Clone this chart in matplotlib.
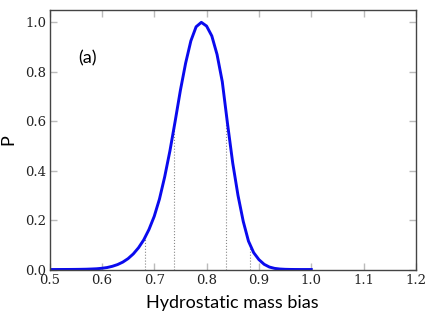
"""
Hydrostatic mass bias posterior, panel (a)
"""

import numpy as np
import matplotlib
matplotlib.use('Agg')
import matplotlib.pyplot as plt

# curve, 0.01 steps
bias = [0.50, 0.51, 0.52, 0.53, 0.54, 0.55, 0.56, 0.57, 0.58, 0.59,
        0.60, 0.61, 0.62, 0.63, 0.64, 0.65, 0.66, 0.67, 0.68, 0.69,
        0.70, 0.71, 0.72, 0.73, 0.74, 0.75, 0.76, 0.77, 0.78, 0.79,
        0.80, 0.81, 0.82, 0.83, 0.84, 0.85, 0.86, 0.87, 0.88, 0.89,
        0.90, 0.91, 0.92, 0.93, 0.94, 0.95, 0.96, 0.97, 0.98, 0.99, 1.00]
prob = [0.0, 0.0, 0.0001, 0.0002, 0.0003, 0.0005, 0.0008, 0.0012, 0.002, 0.003,
        0.005, 0.008, 0.013, 0.020, 0.030, 0.044, 0.063, 0.088, 0.120, 0.162,
        0.215, 0.285, 0.375, 0.480, 0.600, 0.725, 0.835, 0.925, 0.982, 1.000,
        0.985, 0.945, 0.870, 0.760, 0.590, 0.430, 0.300, 0.195, 0.115, 0.068,
        0.040, 0.021, 0.010, 0.0045, 0.002, 0.0008, 0.0003, 0.0001, 0.0, 0.0, 0.0]

# interval bounds (dotted lines)
bounds = [0.683, 0.738, 0.838, 0.882]

xticks = [0.5, 0.6, 0.7, 0.8, 0.9, 1.0, 1.1, 1.2]
yticks = [0.0, 0.2, 0.4, 0.6, 0.8, 1.0]

fig = plt.figure(figsize=(4.29, 3.22), dpi=100)
ax = fig.add_axes([0.1154, 0.163, 0.8543, 0.806])

for b in bounds:
    ax.plot([b, b], [0, np.interp(b, bias, prob)], color='#888888',
            linestyle=':', linewidth=0.8)

ax.plot(bias, prob, color='#0a0aee', linewidth=2.1, solid_joinstyle='round')

ax.set_xlim(0.5, 1.2)
ax.set_ylim(0, 1.05)
ax.set_xticks(xticks)
ax.set_yticks(yticks)
ax.set_xticklabels(['%.1f' % t for t in xticks], family='DejaVu Serif', fontsize=9.5)
ax.set_yticklabels(['%.1f' % t for t in yticks], family='DejaVu Serif', fontsize=9.5)
ax.tick_params(direction='in', length=5, width=1, color='#bbbbbb',
               top=True, right=True, labelcolor='#222222')
ax.tick_params(axis='y', pad=2.5)
ax.tick_params(axis='x', pad=3)
for s in ax.spines.values():
    s.set_color('#444444')
    s.set_linewidth(1.0)

ax.set_xlabel('Hydrostatic mass bias', family='Lato', fontsize=13, labelpad=6)
ax.set_ylabel('P', family='Lato', fontsize=13, labelpad=6)
ax.text(0.572, 0.855, '(a)', family='Lato', fontsize=13, ha='center', va='center')

fig.savefig('out.png', dpi=100)
